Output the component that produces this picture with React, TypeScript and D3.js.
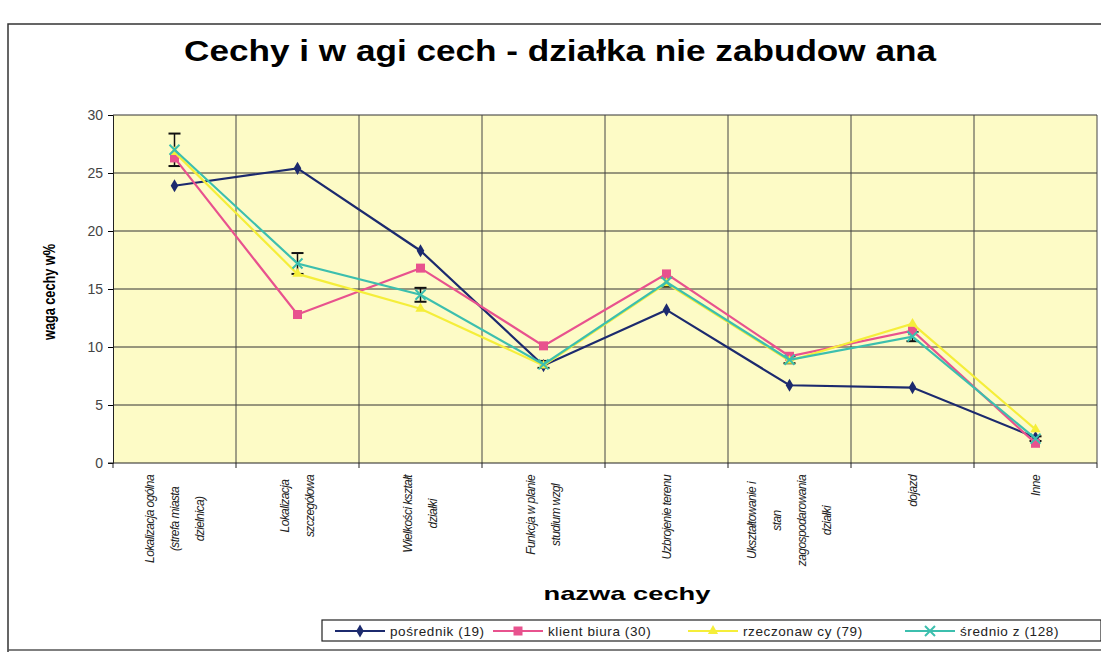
import React, { useEffect, useRef } from 'react'
import * as d3 from 'd3'

const categories = [
  ['Lokalizacja ogólna', '(strefa miasta', 'dzielnica)'],
  ['Lokalizacja', 'szczegółowa'],
  ['Wielkości kształt', 'działki'],
  ['Funkcja w planie', 'studium wzgl'],
  ['Uzbrojenie terenu'],
  ['Ukształtowanie i', 'stan', 'zagospodarowania', 'działki'],
  ['dojazd'],
  ['Inne'],
]

const posrednik = [23.9, 25.4, 18.3, 8.4, 13.2, 6.7, 6.5, 2.2]
const klient = [26.3, 12.8, 16.8, 10.1, 16.3, 9.2, 11.4, 1.7]
const rzeczoznawcy = [26.8, 16.3, 13.3, 8.4, 15.5, 8.8, 12.0, 2.9]
const srednio = [27.0, 17.2, 14.5, 8.5, 15.6, 8.9, 10.9, 2.1]
const srednioErr = [1.4, 0.9, 0.6, 0.3, 0.4, 0.3, 0.4, 0.2]

const yTicks = [0, 5, 10, 15, 20, 25, 30]

const series = [
  { name: 'pośrednik (19)', values: posrednik, color: '#1c2a6e', marker: 'diamond' },
  { name: 'klient biura (30)', values: klient, color: '#e8528e', marker: 'square' },
  { name: 'rzeczonaw cy (79)', values: rzeczoznawcy, color: '#f5ee3a', marker: 'triangle' },
  { name: 'średnio z (128)', values: srednio, color: '#3cbfae', marker: 'cross' },
]

const W = 1101
const H = 652
const margin = { left: 113, right: 4, top: 115, bottom: 189 }

function drawMarker(g, type, x, y, color) {
  if (type === 'diamond') {
    g.append('path').attr('d', d3.symbol(d3.symbolDiamond, 50)()).attr('transform', `translate(${x},${y})`).attr('fill', color)
  } else if (type === 'square') {
    g.append('rect').attr('x', x - 4.5).attr('y', y - 4.5).attr('width', 9).attr('height', 9).attr('fill', color)
  } else if (type === 'triangle') {
    g.append('path').attr('d', d3.symbol(d3.symbolTriangle, 45)()).attr('transform', `translate(${x},${y})`).attr('fill', color)
  } else {
    g.append('path').attr('d', `M${x - 5},${y - 5}L${x + 5},${y + 5}M${x - 5},${y + 5}L${x + 5},${y - 5}`)
      .attr('stroke', color).attr('stroke-width', 2)
  }
}

function drawChart(svgEl) {
  const svg = d3.select(svgEl)
  svg.selectAll('*').remove()
  const font = 'Arial, "Liberation Sans", sans-serif'

  // outer frame
  svg.append('path').attr('d', `M8,${H}L8,24L${W},24`).attr('fill', 'none').attr('stroke', '#333').attr('stroke-width', 1.5)
  svg.append('line').attr('x1', 8).attr('x2', W).attr('y1', H - 2).attr('y2', H - 2).attr('stroke', '#555').attr('stroke-width', 1.5)

  svg.append('text').attr('x', 560).attr('y', 61).attr('text-anchor', 'middle')
    .attr('font-family', font).attr('font-weight', 'bold').attr('font-size', 29)
    .attr('textLength', 752).attr('lengthAdjust', 'spacingAndGlyphs')
    .text('Cechy i w agi cech - działka nie zabudow ana')

  const x = d3.scaleBand().domain(d3.range(categories.length)).range([margin.left, W - margin.right])
  const y = d3.scaleLinear().domain([0, 30]).range([H - margin.bottom, margin.top])
  const cx = i => x(i) + x.bandwidth() / 2

  const plot = svg.append('g')
  plot.append('rect').attr('x', x.range()[0]).attr('y', y(30)).attr('width', x.range()[1] - x.range()[0])
    .attr('height', y(0) - y(30)).attr('fill', '#fdfbc6')

  // grid
  plot.selectAll('.hg').data(yTicks.slice(1)).enter().append('line')
    .attr('x1', x.range()[0]).attr('x2', x.range()[1]).attr('y1', d => y(d)).attr('y2', d => y(d))
    .attr('stroke', '#333').attr('stroke-width', 1)
  plot.selectAll('.vg').data(d3.range(1, categories.length + 1)).enter().append('line')
    .attr('x1', d => x.range()[0] + d * x.step()).attr('x2', d => x.range()[0] + d * x.step())
    .attr('y1', y(30)).attr('y2', y(0)).attr('stroke', '#444').attr('stroke-width', 1)

  // axes
  const yAxis = svg.append('g').attr('transform', `translate(${margin.left},0)`)
    .call(d3.axisLeft(y).tickValues(yTicks).tickSize(5).tickPadding(5))
  yAxis.select('.domain').attr('stroke', '#222')
  yAxis.selectAll('text').attr('font-family', font).attr('font-size', 14).attr('fill', '#444')

  const xa = svg.append('g').attr('transform', `translate(0,${y(0)})`)
  xa.append('line').attr('x1', x.range()[0] - 5).attr('x2', x.range()[1]).attr('stroke', '#222')
  xa.selectAll('.xt').data(d3.range(0, categories.length + 1)).enter().append('line')
    .attr('x1', d => x.range()[0] + d * x.step()).attr('x2', d => x.range()[0] + d * x.step())
    .attr('y1', 0).attr('y2', 5).attr('stroke', '#222')

  // category labels, rotated
  categories.forEach((lines, i) => {
    const g = svg.append('g')
    const texts = lines.map((ln, j) => {
      const lx = cx(i) + (j - (lines.length - 1) / 2) * 25
      return g.append('text').attr('font-family', font).attr('font-style', 'italic').attr('font-size', 12)
        .attr('letter-spacing', -0.6).attr('text-anchor', 'middle').attr('fill', '#222')
        .attr('data-x', lx).text(ln)
    })
    const maxLen = d3.max(texts, t => t.node().getComputedTextLength())
    const midY = y(0) + 12 + maxLen / 2
    texts.forEach(t => {
      const lx = +t.attr('data-x')
      t.attr('transform', `translate(${lx + 4},${midY}) rotate(-90)`)
    })
  })

  // error bars
  const eb = svg.append('g')
  srednio.forEach((v, i) => {
    const e = srednioErr[i]
    eb.append('line').attr('x1', cx(i)).attr('x2', cx(i)).attr('y1', y(v + e)).attr('y2', y(v - e)).attr('stroke', '#111').attr('stroke-width', 1.5)
    ;[v + e, v - e].forEach(c => {
      eb.append('line').attr('x1', cx(i) - 6).attr('x2', cx(i) + 6).attr('y1', y(c)).attr('y2', y(c)).attr('stroke', '#111').attr('stroke-width', 2)
    })
  })

  // lines
  const line = d3.line().x((d, i) => cx(i)).y(d => y(d))
  series.forEach(s => {
    const g = svg.append('g')
    g.append('path').datum(s.values).attr('d', line).attr('fill', 'none').attr('stroke', s.color).attr('stroke-width', 2.2)
    s.values.forEach((v, i) => drawMarker(g, s.marker, cx(i), y(v), s.color))
  })

  // axis titles
  svg.append('text').attr('transform', `translate(55,292) rotate(-90)`).attr('text-anchor', 'middle')
    .attr('font-family', font).attr('font-weight', 'bold').attr('font-size', 16)
    .attr('textLength', 96).attr('lengthAdjust', 'spacingAndGlyphs').text('waga cechy w%')
  svg.append('text').attr('x', 627).attr('y', 600).attr('text-anchor', 'middle')
    .attr('font-family', font).attr('font-weight', 'bold').attr('font-size', 19)
    .attr('textLength', 167).attr('lengthAdjust', 'spacingAndGlyphs').text('nazwa cechy')

  // legend
  const lg = svg.append('g')
  lg.append('rect').attr('x', 322).attr('y', 620).attr('width', 779).attr('height', 21)
    .attr('fill', 'white').attr('stroke', '#222').attr('stroke-width', 1.2)
  const legendX = [335, 493, 688, 905]
  series.forEach((s, i) => {
    const lx = legendX[i]
    lg.append('line').attr('x1', lx).attr('x2', lx + 50).attr('y1', 631).attr('y2', 631).attr('stroke', s.color).attr('stroke-width', 2.2)
    drawMarker(lg, s.marker, lx + 25, 631, s.color)
    lg.append('text').attr('x', lx + 55).attr('y', 636).attr('font-family', font).attr('font-size', 13.5)
      .attr('letter-spacing', 0.6).attr('fill', '#222').text(s.name)
  })
}

export default function App() {
  const ref = useRef(null)
  useEffect(() => {
    drawChart(ref.current)
  }, [])
  return (
    <svg ref={ref} width={W} height={H} style={{ position: 'absolute', left: 0, top: 0, background: 'white' }} />
  )
}
